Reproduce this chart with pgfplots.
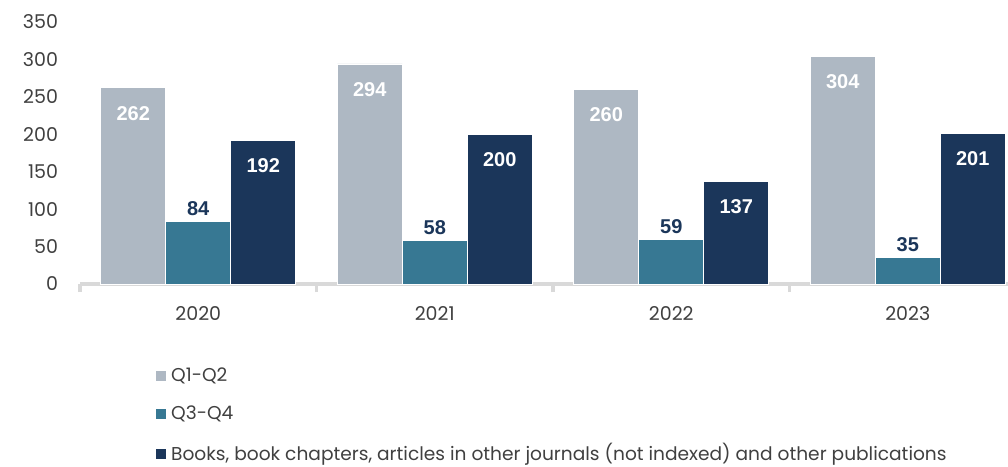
\documentclass[border=0pt]{standalone}
\usepackage{fontspec}
\setmainfont{Poppins}
\newfontfamily\labfont{Liberation Sans}
\usepackage{pgfplots}
\pgfplotsset{compat=1.18}
\definecolor{cqa}{HTML}{AEB8C3}
\definecolor{cqb}{HTML}{377893}
\definecolor{cbk}{HTML}{1B365A}
\definecolor{txt}{HTML}{404040}
\definecolor{axl}{HTML}{D9D9D9}

\begin{document}
\begin{tikzpicture}
% grouped bars, 1px of the reference = 0.5bp
\begin{axis}[
  name=ax,
  x=118.25bp, y=0.37429bp,
  xmin=-0.5, xmax=3.5, ymin=0, ymax=350,
  enlargelimits=false, clip=false,
  ybar=0pt, bar width=32.5bp,
  axis lines*=left, axis line style={-},
  y axis line style={draw=none},
  x axis line style={axl, line width=1.6bp},
  ytick={0,50,...,350},
  xtick={0,1,2,3}, xticklabels={2020,2021,2022,2023},
  minor xtick={-0.5,0.5,1.5,2.5,3.5},
  minor x tick style={axl, line width=1.6bp},
  major tick length=0pt, minor tick length=4bp, tick align=outside,
  ticklabel style={font=\fontsize{9.5bp}{11bp}\selectfont, text=txt},
  yticklabel style={xshift=-7.5bp},
  xticklabel style={yshift=-7.5bp},
  /pgf/number format/assume math mode=true,
  legend style={draw=none, fill=none, at={(rel axis cs:0,0)}, anchor=north west,
    xshift=34.5bp, yshift=-37.5bp, row sep=6.7bp,
    font=\fontsize{9.3bp}{11bp}\selectfont, text=txt},
  legend cell align=left,
  legend image code/.code={\fill[#1] (0bp,-2.75bp) rectangle (5.5bp,2.75bp);},
]
\addplot[fill=cqa, draw=white, line width=0.4bp, nodes near coords,
  nodes near coords style={anchor=center, yshift=-12.75bp, text=white,
    font=\labfont\bfseries\fontsize{10bp}{12bp}\selectfont}]
  coordinates {(0,262) (1,294) (2,260) (3,304)};
\addlegendentry{Q1-Q2}
\addplot[fill=cqb, draw=white, line width=0.4bp, nodes near coords,
  nodes near coords style={anchor=center, yshift=6.5bp, text=cbk,
    font=\labfont\bfseries\fontsize{10bp}{12bp}\selectfont}]
  coordinates {(0,84) (1,58) (2,59) (3,35)};
\addlegendentry{Q3-Q4}
\addplot[fill=cbk, draw=white, line width=0.4bp, nodes near coords,
  nodes near coords style={anchor=center, yshift=-12.75bp, text=white,
    font=\labfont\bfseries\fontsize{10bp}{12bp}\selectfont}]
  coordinates {(0,192) (1,200) (2,137) (3,201)};
\addlegendentry{Books, book chapters, articles in other journals (not indexed) and other publications}
\end{axis}
\pgfresetboundingbox
\path[use as bounding box] ([xshift=-40bp, yshift=-91.5bp]ax.south west)
  rectangle ([xshift=464bp, yshift=142bp]ax.south west);
\end{tikzpicture}
\end{document}
